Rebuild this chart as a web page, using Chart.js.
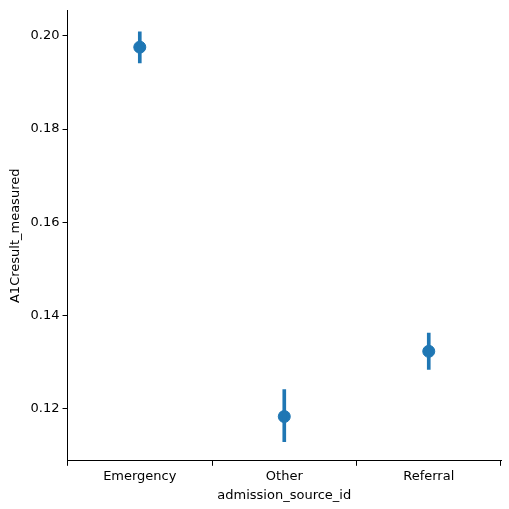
<!DOCTYPE html>
<html><head><meta charset="utf-8">
<script src="https://cdn.jsdelivr.net/npm/chart.js@4"></script>
<style>html,body{margin:0;padding:0;background:#fff}#c{width:509px;height:509px}</style>
</head><body><div id="c"><canvas id="cv" width="509" height="509"></canvas></div>
<script>
const categories=["Emergency","Other","Referral"];
const means=[0.1976,0.1183,0.1323];
const lows=[0.1942,0.1129,0.1284];
const highs=[0.2009,0.1241,0.1362];
const color="#1f77b4";
Chart.defaults.font.family="DejaVu Sans";
Chart.defaults.font.size=13;
Chart.defaults.color="#000";
new Chart(document.getElementById("cv"),{
 data:{labels:categories,datasets:[
  {type:"bar",data:lows.map((l,i)=>[l,highs[i]]),backgroundColor:color,barThickness:3,grouped:false},
  {type:"line",data:means,showLine:false,pointRadius:6,pointHoverRadius:6,pointBackgroundColor:color,pointBorderColor:color}
 ]},
 options:{responsive:false,animation:false,devicePixelRatio:1,
  layout:{padding:{top:8,right:8,left:4,bottom:2}},
  plugins:{legend:{display:false},tooltip:{enabled:false}},
  scales:{
   x:{offset:true,grid:{display:true,drawOnChartArea:false,drawTicks:true,tickLength:5,color:"#000"},border:{color:"#000"},
      title:{display:true,text:"admission_source_id",padding:{top:0}},ticks:{padding:3}},
   y:{min:0.1088,max:0.2054,afterBuildTicks:a=>{a.ticks=[0.12,0.14,0.16,0.18,0.20].map(v=>({value:v}))},
      grid:{display:true,drawOnChartArea:false,drawTicks:true,tickLength:5,color:"#000"},border:{color:"#000"},
      title:{display:true,text:"A1Cresult_measured",padding:{bottom:4}},
      ticks:{padding:3,callback:v=>v.toFixed(2)}}
  }}
});
</script></body></html>
